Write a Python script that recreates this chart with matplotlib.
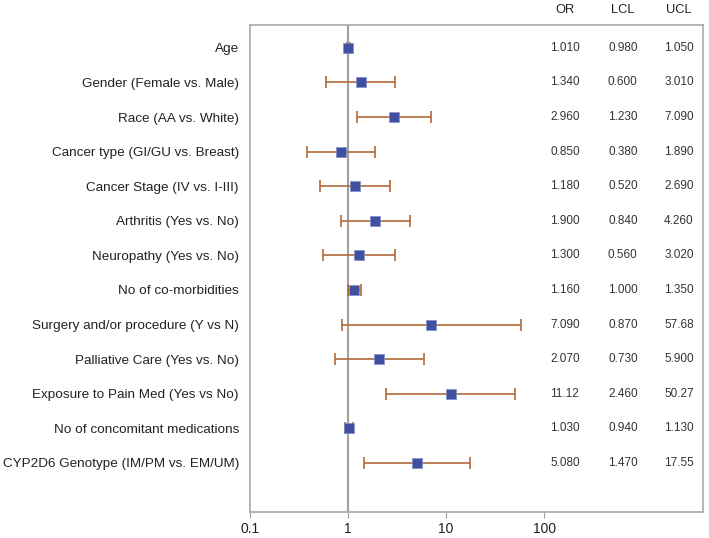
import matplotlib
matplotlib.use("Agg")
import matplotlib.pyplot as plt
import matplotlib.transforms as mtransforms

labels = ["Age", "Gender (Female vs. Male)", "Race (AA vs. White)",
          "Cancer type (GI/GU vs. Breast)", "Cancer Stage (IV vs. I-III)",
          "Arthritis (Yes vs. No)", "Neuropathy (Yes vs. No)",
          "No of co-morbidities", "Surgery and/or procedure (Y vs N)",
          "Palliative Care (Yes vs. No)", "Exposure to Pain Med (Yes vs No)",
          "No of concomitant medications", "CYP2D6 Genotype (IM/PM vs. EM/UM)"]
or_vals = [1.010, 1.340, 2.960, 0.850, 1.180, 1.900, 1.300, 1.160, 7.090, 2.070, 11.12, 1.030, 5.080]
lcl_vals = [0.980, 0.600, 1.230, 0.380, 0.520, 0.840, 0.560, 1.000, 0.870, 0.730, 2.460, 0.940, 1.470]
ucl_vals = [1.050, 3.010, 7.090, 1.890, 2.690, 4.260, 3.020, 1.350, 57.68, 5.900, 50.27, 1.130, 17.55]
or_txt = ["1.010", "1.340", "2.960", "0.850", "1.180", "1.900", "1.300", "1.160", "7.090", "2.070", "11.12", "1.030", "5.080"]
lcl_txt = ["0.980", "0.600", "1.230", "0.380", "0.520", "0.840", "0.560", "1.000", "0.870", "0.730", "2.460", "0.940", "1.470"]
ucl_txt = ["1.050", "3.010", "7.090", "1.890", "2.690", "4.260", "3.020", "1.350", "57.68", "5.900", "50.27", "1.130", "17.55"]
xticks = [0.1, 1, 10, 100]
xtick_labels = ["0.1", "1", "10", "100"]

plt.rcParams['font.family'] = ['Liberation Sans', 'DejaVu Sans']

fig = plt.figure(figsize=(7.09, 5.38), dpi=100)
ax = fig.add_axes([250/709, 1-512/538, (703-250)/709, (512-25)/538])

y = list(range(len(labels)))
ax.axvline(1, color='#a0a0a0', lw=1.5, zorder=1)
err_lo = [o - l for o, l in zip(or_vals, lcl_vals)]
err_hi = [u - o for o, u in zip(or_vals, ucl_vals)]
ax.errorbar(or_vals, y, xerr=[err_lo, err_hi], fmt='none', ecolor='#b06a3a',
            elinewidth=1.2, capsize=4.3, capthick=1.2, zorder=2)
ax.scatter(or_vals, y, marker='s', s=52, color='#3f50a0', edgecolor='#7f8fc8',
           linewidth=0.5, zorder=3)

ax.set_xscale('log')
ax.set_xlim(0.1, 10**3.62)
ax.set_ylim(len(labels) - 1 + 1.42, -0.66)
ax.set_xticks(xticks)
ax.set_xticklabels(xtick_labels, fontsize=10, color='#222222')
ax.xaxis.set_minor_locator(matplotlib.ticker.NullLocator())
ax.set_yticks(y)
ax.set_yticklabels(labels, fontsize=9.7, color='#222222')
ax.tick_params(axis='y', length=0, pad=8)
ax.tick_params(axis='x', length=4, color='#a0a0a0', pad=3)
for s in ax.spines.values():
    s.set_color('#a8a8a8')
    s.set_linewidth(1.2)

trans = mtransforms.blended_transform_factory(ax.transAxes, ax.transData)
cols = [(0.695, "OR", or_txt), (0.823, "LCL", lcl_txt), (0.947, "UCL", ucl_txt)]
for xc, head, vals in cols:
    ax.text(xc, 1.031, head, transform=ax.transAxes, ha='center', va='center',
            fontsize=9.3, color='#222222')
    for yi, v in zip(y, vals):
        ax.text(xc, yi, v, transform=trans, ha='center', va='center',
                fontsize=8.5, color='#333333')

fig.savefig("out.png", dpi=100)
